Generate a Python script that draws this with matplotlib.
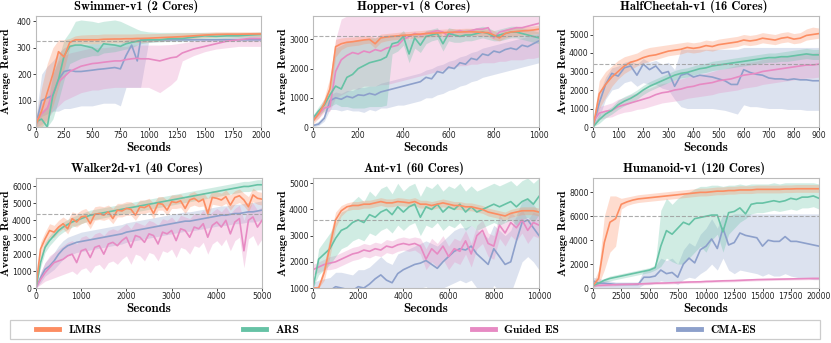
import matplotlib
matplotlib.use("Agg")
import matplotlib.pyplot as plt
from matplotlib.lines import Line2D
from matplotlib.patches import Rectangle

# colours (Set2)
C_LMRS, C_ARS, C_GES, C_CMA = "#fc8d62", "#66c2a5", "#e78ac3", "#8da0cb"
methods = ["LMRS", "ARS", "Guided ES", "CMA-ES"]

# ---------------- Swimmer-v1 ----------------
swim_x = [0, 50, 100, 150, 200, 250, 300, 350, 400, 500, 550, 600, 700, 750, 800, 850, 900, 930,
          1000, 1100, 1200, 1250, 1300, 1400, 1500, 1600, 1700, 1800, 1900, 2000]
swim_lmrs = [10, 60, 130, 200, 285, 265, 320, 330, 330, 330, 330, 332, 333, 333, 334, 334, 335, 335, 336, 338, 340, 341, 342, 345, 348, 350, 351, 351, 352, 352]
swim_lmrs_lo = [0, 0, 20, 80, 150, 220, 300, 315, 315, 315, 315, 318, 318, 318, 320, 320, 320, 320, 322, 325, 328, 330, 330, 335, 338, 340, 342, 342, 343, 343]
swim_lmrs_hi = [30, 150, 240, 300, 330, 330, 335, 345, 348, 350, 350, 352, 352, 352, 352, 352, 353, 353, 353, 354, 355, 356, 356, 357, 358, 360, 360, 360, 360, 360]
swim_ars = [20, 30, 0, 120, 180, 270, 305, 310, 310, 300, 285, 315, 310, 305, 315, 320, 325, 328, 330, 330, 335, 335, 335, 340, 345, 343, 345, 345, 348, 350]
swim_ars_lo = [0, 0, 0, 30, 100, 180, 240, 250, 260, 270, 270, 280, 285, 290, 295, 300, 310, 315, 320, 322, 325, 325, 325, 330, 335, 335, 336, 336, 338, 340]
swim_ars_hi = [40, 60, 80, 200, 260, 330, 360, 400, 405, 400, 395, 400, 405, 400, 390, 380, 370, 365, 360, 358, 358, 358, 358, 358, 358, 358, 358, 358, 358, 360]
swim_ges = [20, 50, 70, 130, 170, 190, 210, 220, 230, 240, 242, 245, 250, 250, 255, 258, 260, 258, 258, 250, 262, 265, 280, 295, 305, 315, 325, 330, 335, 335]
swim_ges_lo = [0, 10, 30, 60, 80, 100, 110, 120, 130, 140, 140, 145, 150, 150, 150, 150, 150, 150, 150, 130, 160, 180, 250, 270, 285, 295, 300, 305, 305, 305]
swim_ges_hi = [40, 90, 120, 200, 250, 270, 280, 285, 290, 300, 300, 300, 305, 305, 305, 310, 310, 310, 310, 310, 312, 315, 318, 325, 330, 335, 340, 342, 345, 345]
swim_cma = [10, 100, 110, 120, 180, 210, 215, 210, 210, 215, 218, 220, 225, 220, 270, 310, 250, 330, 330, 330, 330, 330, 330, 330, 330, 330, 330, 330, 330, 330]
swim_cma_lo = [0, 40, 50, 60, 60, 70, 70, 75, 80, 80, 85, 90, 90, 80, 150, 150, 150, 150, 320, 325, 325, 325, 325, 325, 325, 325, 325, 325, 325, 325]
swim_cma_hi = [40, 200, 230, 250, 280, 300, 310, 310, 310, 315, 315, 315, 315, 315, 330, 335, 335, 335, 335, 335, 335, 335, 335, 335, 335, 335, 335, 335, 335, 335]

# ---------------- Hopper-v1 ----------------
hop_x = [0, 25, 50, 75, 100, 125, 150, 175, 200, 225, 250, 275, 300, 325, 350, 375, 400, 425, 450, 475, 500,
         525, 550, 575, 600, 625, 650, 675, 700, 725, 750, 775, 800, 825, 850, 875, 900, 925, 950, 975, 1000]
hop_lmrs = [200, 450, 800, 1300, 2750, 2850, 2900, 2920, 2950, 2980, 3000, 2850, 3050, 3080, 3100, 3120, 3140, 3150, 3170, 3180, 3200, 3210, 3220, 3230, 3240, 3250, 3250, 3260, 3260, 3250, 3240, 3230, 3150, 3050, 3200, 3250, 3270, 3290, 3300, 3320, 3350]
hop_lmrs_lo = [100, 300, 600, 1000, 2400, 2650, 2750, 2780, 2800, 2850, 2870, 2700, 2900, 2950, 2980, 3000, 3020, 3030, 3050, 3060, 3080, 3090, 3100, 3110, 3120, 3130, 3130, 3140, 3140, 3130, 3120, 3100, 3000, 2950, 3050, 3100, 3120, 3150, 3160, 3180, 3200]
hop_lmrs_hi = [300, 600, 1000, 1700, 3000, 3050, 3070, 3080, 3100, 3120, 3130, 3050, 3180, 3200, 3220, 3240, 3260, 3270, 3290, 3300, 3320, 3330, 3340, 3350, 3360, 3370, 3370, 3380, 3380, 3370, 3360, 3350, 3300, 3200, 3350, 3400, 3420, 3430, 3440, 3460, 3480]
hop_ars = [300, 550, 750, 1100, 1400, 1300, 1700, 1800, 2000, 2100, 2200, 2250, 2300, 2400, 2850, 2900, 3100, 2500, 3050, 2800, 3100, 3150, 3200, 2850, 3200, 3150, 3100, 3150, 3150, 3200, 3250, 3200, 3100, 3150, 3200, 3250, 3250, 3200, 3150, 3100, 3050]
hop_ars_lo = [200, 400, 550, 700, 800, 700, 700, 650, 650, 650, 700, 700, 700, 750, 2500, 2600, 2800, 2200, 2700, 2550, 2850, 2950, 3000, 2600, 2950, 2900, 2900, 2950, 2950, 3000, 3050, 3000, 2950, 2950, 3000, 3050, 3050, 3000, 2950, 2900, 2850]
hop_ars_hi = [400, 700, 950, 1400, 2700, 2800, 2900, 2950, 3000, 3000, 3050, 3050, 3100, 3150, 3150, 3150, 3300, 3000, 3250, 3100, 3300, 3350, 3400, 3100, 3400, 3350, 3300, 3350, 3350, 3400, 3450, 3400, 3300, 3350, 3400, 3450, 3450, 3400, 3350, 3300, 3250]
hop_ges = [300, 450, 650, 700, 1900, 2300, 2450, 2550, 2500, 2600, 2550, 2650, 2600, 2700, 2750, 2800, 3000, 3100, 3200, 3150, 3200, 3250, 3300, 3250, 3100, 3250, 3300, 3250, 3300, 3350, 3350, 3400, 3050, 3250, 3300, 3350, 3400, 3400, 3450, 3500, 3550]
hop_ges_lo = [200, 300, 500, 550, 1000, 1100, 1200, 1300, 1300, 1400, 1400, 1400, 1450, 1450, 1500, 1550, 1600, 1650, 1700, 1750, 1800, 1850, 1900, 1950, 2000, 2050, 2100, 2100, 2150, 2150, 2200, 2200, 2200, 2250, 2250, 2300, 2300, 2300, 2350, 2350, 2400]
hop_ges_hi = [400, 600, 800, 1000, 3000, 3700, 3800, 3800, 3800, 3800, 3800, 3800, 3800, 3800, 3800, 3800, 3800, 3800, 3800, 3800, 3800, 3800, 3800, 3800, 3800, 3800, 3800, 3800, 3800, 3800, 3800, 3800, 3800, 3800, 3800, 3800, 3800, 3800, 3800, 3800, 3800]
hop_cma = [50, 100, 300, 900, 1000, 950, 1050, 1000, 1100, 1080, 1150, 1100, 1200, 1250, 1300, 1350, 1400, 1450, 1500, 1550, 1700, 1650, 1900, 1850, 2050, 2000, 2200, 2150, 2350, 2300, 2500, 2450, 2600, 2550, 2650, 2700, 2650, 2800, 2750, 2850, 2950]
hop_cma_lo = [0, 50, 200, 600, 600, 550, 600, 550, 550, 500, 600, 550, 650, 650, 700, 750, 750, 800, 850, 900, 1000, 1000, 1100, 1150, 1250, 1300, 1400, 1450, 1550, 1600, 1700, 1750, 1800, 1850, 1900, 1950, 2000, 2050, 2100, 2150, 2200]
hop_cma_hi = [100, 200, 400, 1100, 1200, 1150, 1250, 1250, 1350, 1350, 1400, 1400, 1500, 1550, 1600, 1650, 1700, 1750, 1800, 1850, 1950, 2000, 2100, 2150, 2250, 2300, 2400, 2450, 2550, 2600, 2700, 2750, 2800, 2850, 2900, 2950, 3000, 3050, 3100, 3150, 3200]

# ---------------- HalfCheetah-v1 ----------------
hc_x = [0, 25, 50, 75, 100, 125, 150, 175, 200, 225, 250, 275, 300, 325, 350, 375, 400, 425, 450,
        475, 500, 525, 550, 575, 600, 625, 650, 675, 700, 725, 750, 775, 800, 825, 850, 875, 900]
hc_lmrs = [0, 1800, 2300, 2700, 3000, 3300, 3500, 3600, 3750, 3850, 3900, 4000, 4100, 4150, 4200, 4300, 4250, 4300, 4400, 4350, 4450, 4500, 4550, 4600, 4700, 4650, 4700, 4800, 4750, 4700, 4800, 4850, 4750, 4800, 4950, 5000, 5050]
hc_lmrs_lo = [0, 1000, 1600, 2200, 2600, 2900, 3100, 3300, 3450, 3550, 3650, 3750, 3850, 3900, 3950, 4050, 4000, 4050, 4150, 4100, 4200, 4250, 4300, 4350, 4450, 4400, 4450, 4550, 4500, 4450, 4550, 4600, 4500, 4550, 4700, 4750, 4800]
hc_lmrs_hi = [200, 2500, 3000, 3300, 3600, 3800, 3900, 4000, 4200, 4300, 4350, 4400, 4450, 4500, 4550, 4600, 4550, 4600, 4700, 4650, 4750, 4800, 4850, 4900, 5000, 4950, 5000, 5100, 5050, 5000, 5100, 5150, 5050, 5100, 5300, 5400, 5350]
hc_ars = [0, 400, 700, 900, 1200, 1400, 1550, 1750, 2000, 2200, 2350, 2500, 2650, 2800, 2900, 2950, 3050, 3150, 3200, 3300, 3350, 3400, 3450, 3500, 3550, 3600, 3650, 3700, 3750, 3750, 3800, 3800, 3850, 3900, 3950, 3900, 3900]
hc_ars_lo = [0, 200, 500, 700, 950, 1150, 1300, 1500, 1750, 1950, 2100, 2250, 2400, 2550, 2650, 2700, 2800, 2900, 2950, 3050, 3100, 3150, 3200, 3250, 3300, 3350, 3400, 3450, 3500, 3500, 3550, 3550, 3600, 3650, 3700, 3650, 3650]
hc_ars_hi = [100, 700, 900, 1100, 1450, 1650, 1800, 2000, 2250, 2450, 2600, 2750, 2900, 3050, 3150, 3200, 3300, 3400, 3450, 3550, 3600, 3650, 3700, 3750, 3800, 3850, 3900, 3950, 4000, 4000, 4050, 4100, 4150, 4200, 4250, 4200, 4200]
hc_ges = [300, 750, 850, 900, 1100, 1200, 1300, 1400, 1500, 1600, 1750, 1850, 1900, 2000, 2050, 2150, 2200, 2300, 2350, 2400, 2500, 2550, 2600, 2700, 2800, 2850, 2900, 3000, 3050, 3100, 3150, 3200, 3250, 3300, 3350, 3350, 3400]
hc_ges_lo = [100, 400, 500, 550, 700, 800, 850, 950, 1000, 1100, 1200, 1300, 1350, 1400, 1450, 1550, 1600, 1650, 1700, 1750, 1850, 1900, 1950, 2000, 2100, 2150, 2200, 2300, 2350, 2400, 2450, 2500, 2550, 2600, 2650, 2650, 2700]
hc_ges_hi = [500, 1100, 1200, 1300, 1500, 1600, 1750, 1850, 2000, 2100, 2250, 2350, 2400, 2550, 2600, 2700, 2750, 2850, 2900, 3000, 3100, 3150, 3250, 3350, 3450, 3500, 3550, 3650, 3700, 3750, 3800, 3850, 3900, 3950, 4000, 4000, 4050]
hc_cma = [0, 1300, 2300, 2900, 2750, 3200, 3300, 2800, 3400, 3100, 3300, 2900, 3000, 2200, 2800, 2900, 2700, 2800, 2750, 2700, 2600, 2500, 2300, 2300, 3100, 2950, 2850, 2800, 2650, 2600, 2600, 2550, 2600, 2550, 2550, 2500, 2500]
hc_cma_lo = [0, 500, 1500, 2000, 2100, 2400, 2500, 2200, 2400, 2300, 2300, 2100, 2000, 1500, 1100, 1000, 1000, 1000, 1000, 1000, 950, 900, 800, 700, 1200, 1100, 1100, 1050, 1000, 1000, 1000, 950, 950, 950, 900, 900, 900]
hc_cma_hi = [100, 1800, 2700, 3200, 3300, 3500, 3600, 3400, 3700, 3500, 3600, 3400, 3500, 3100, 4200, 4200, 4200, 4200, 4200, 4200, 4200, 4200, 4200, 4200, 4300, 4300, 4300, 4300, 4300, 4300, 4300, 4300, 4300, 4300, 4300, 4300, 4300]

# ---------------- Walker2d-v1 ----------------
wk_x = [0, 100, 200, 300, 400, 500, 600, 700, 800, 900, 1000, 1100, 1200, 1300, 1400, 1500, 1600, 1700,
        1800, 1900, 2000, 2100, 2200, 2300, 2400, 2500, 2600, 2700, 2800, 2900, 3000, 3100, 3200, 3300,
        3400, 3500, 3600, 3700, 3800, 3900, 4000, 4100, 4200, 4300, 4400, 4500, 4600, 4700, 4800, 4900, 5000]
wk_lmrs = [100, 2300, 2900, 3400, 3300, 3600, 3800, 3500, 4100, 3900, 4200, 4250, 3800, 4350, 4400, 4300, 4500, 4100, 4600, 4550, 4700, 4650, 4300, 4800, 4750, 4900, 4400, 5000, 4950, 4600, 5100, 5050, 5150, 4700, 5200, 5300, 5100, 5250, 4400, 5350, 5300, 5200, 5400, 4900, 5350, 5450, 5200, 4800, 5500, 5300, 5250]
wk_lmrs_lo = [0, 1800, 2400, 3000, 3000, 3300, 3500, 3200, 3700, 3600, 3800, 3900, 3500, 4000, 4050, 4000, 4100, 3800, 4200, 4200, 4300, 4300, 4000, 4400, 4400, 4500, 4100, 4600, 4600, 4300, 4700, 4700, 4750, 4400, 4800, 4900, 4800, 4850, 4100, 4950, 4900, 4850, 5000, 4600, 4950, 5050, 4850, 4500, 5100, 4950, 4900]
wk_lmrs_hi = [200, 2700, 3300, 3800, 3700, 4000, 4200, 4000, 4500, 4400, 4600, 4700, 4400, 4800, 4850, 4800, 4900, 4700, 5000, 5000, 5100, 5100, 4900, 5200, 5200, 5300, 5000, 5400, 5400, 5200, 5500, 5500, 5550, 5300, 5600, 5700, 5500, 5650, 5300, 5750, 5700, 5600, 5800, 5500, 5750, 5850, 5600, 5400, 5900, 5700, 5650]
wk_ars = [0, 1500, 2400, 2800, 3100, 3400, 3600, 3750, 3900, 4000, 4100, 4200, 4300, 4350, 4400, 4450, 4500, 4550, 4600, 4650, 4700, 4750, 4800, 4850, 4900, 4950, 5000, 5050, 5100, 5150, 5200, 5250, 5300, 5350, 5400, 5450, 5500, 5550, 5600, 5650, 5700, 5750, 5800, 5850, 5900, 5950, 6000, 6000, 6050, 6100, 6100]
wk_ars_lo = [0, 1200, 2100, 2500, 2800, 3100, 3300, 3450, 3600, 3700, 3800, 3900, 4000, 4050, 4100, 4150, 4200, 4250, 4300, 4350, 4400, 4450, 4500, 4550, 4600, 4650, 4700, 4750, 4800, 4850, 4900, 4950, 5000, 5050, 5100, 5150, 5200, 5250, 5300, 5350, 5400, 5450, 5500, 5550, 5600, 5650, 5700, 5700, 5750, 5800, 5800]
wk_ars_hi = [100, 1800, 2700, 3100, 3400, 3700, 3900, 4050, 4200, 4300, 4400, 4500, 4600, 4650, 4700, 4750, 4800, 4850, 4900, 4950, 5000, 5050, 5100, 5150, 5200, 5250, 5300, 5350, 5400, 5450, 5500, 5550, 5600, 5650, 5700, 5750, 5800, 5850, 5900, 5950, 6000, 6050, 6100, 6150, 6200, 6250, 6300, 6300, 6350, 6400, 6400]
wk_ges = [0, 500, 900, 1200, 1500, 1600, 1700, 1900, 2000, 1500, 2200, 2300, 1800, 2400, 2500, 2000, 2600, 2700, 2500, 2800, 3000, 2400, 3100, 3000, 2700, 3200, 3100, 2600, 3300, 3200, 3400, 2800, 3500, 3400, 3000, 3600, 3500, 3800, 3000, 3700, 3900, 3600, 4000, 3200, 3900, 4100, 2200, 4000, 4200, 3600, 4000]
wk_ges_lo = [0, 200, 400, 500, 600, 700, 800, 900, 1000, 800, 1100, 1200, 900, 1300, 1400, 1100, 1500, 1600, 1400, 1700, 1900, 1400, 2000, 1900, 1600, 2100, 2000, 1600, 2200, 2100, 2300, 1800, 2400, 2300, 2000, 2500, 2400, 2700, 2000, 2600, 2800, 2500, 2900, 2200, 2800, 3000, 1200, 2900, 3100, 2500, 2900]
wk_ges_hi = [100, 900, 1500, 1900, 2100, 2300, 2500, 2700, 2800, 2600, 3000, 3100, 2900, 3200, 3300, 3100, 3400, 3500, 3400, 3600, 3800, 3500, 3900, 3800, 3700, 4000, 3900, 3700, 4100, 4000, 4200, 3900, 4300, 4200, 4100, 4400, 4300, 4600, 4200, 4500, 4700, 4500, 4800, 4400, 4700, 4900, 4000, 4800, 5000, 4600, 4800]
wk_cma = [0, 600, 1100, 1300, 1600, 2000, 2300, 2500, 2600, 2700, 2750, 2800, 2850, 2900, 2950, 3000, 3050, 3100, 3150, 3200, 3300, 3350, 3400, 3450, 3500, 3550, 3600, 3650, 3700, 3750, 3800, 3850, 3900, 3950, 3950, 4000, 4050, 4100, 4150, 4200, 4250, 4300, 4300, 4350, 4400, 4400, 4450, 4500, 4500, 4550, 4600]
wk_cma_lo = [0, 300, 700, 900, 1100, 1400, 1700, 1900, 2000, 2100, 2150, 2200, 2250, 2300, 2350, 2400, 2450, 2500, 2550, 2600, 2700, 2750, 2800, 2850, 2900, 2950, 3000, 3050, 3100, 3150, 3200, 3250, 3300, 3350, 3350, 3400, 3450, 3500, 3550, 3600, 3650, 3700, 3700, 3750, 3800, 3800, 3850, 3900, 3900, 3950, 4000]
wk_cma_hi = [100, 900, 1500, 1800, 2100, 2500, 2800, 3000, 3100, 3200, 3300, 3350, 3400, 3450, 3500, 3550, 3600, 3650, 3700, 3750, 3850, 3900, 3950, 4000, 4050, 4100, 4150, 4200, 4250, 4300, 4350, 4400, 4450, 4500, 4500, 4550, 4600, 4650, 4700, 4750, 4800, 4850, 4850, 4900, 4950, 4950, 5000, 5050, 5050, 5100, 5150]

# ---------------- Ant-v1 ----------------
ant_x = [0, 250, 500, 750, 1000, 1250, 1500, 1750, 2000, 2250, 2500, 2750, 3000, 3250, 3500, 3750, 4000,
         4250, 4500, 4750, 5000, 5250, 5500, 5750, 6000, 6250, 6500, 6750, 7000, 7250, 7500, 7750, 8000,
         8250, 8500, 8750, 9000, 9250, 9500, 9750, 10000]
ant_lmrs = [1000, 1000, 1600, 2600, 3600, 3950, 4100, 4150, 4150, 4200, 4200, 4250, 4300, 4250, 4250, 4300, 4280, 4250, 4300, 4200, 4200, 4150, 4200, 4250, 4200, 4150, 4150, 4100, 4100, 4050, 4000, 3900, 3850, 3800, 3750, 3850, 3900, 3950, 3950, 3950, 3900]
ant_lmrs_lo = [1000, 1000, 1300, 2200, 3300, 3750, 3950, 4000, 4000, 4050, 4050, 4100, 4150, 4100, 4100, 4150, 4130, 4100, 4150, 4050, 4050, 4000, 4050, 4100, 4050, 4000, 4000, 3950, 3950, 3900, 3850, 3750, 3700, 3650, 3600, 3700, 3750, 3800, 3800, 3800, 3750]
ant_lmrs_hi = [1000, 1100, 1900, 3000, 3900, 4150, 4250, 4300, 4300, 4350, 4350, 4400, 4450, 4400, 4400, 4450, 4430, 4400, 4450, 4350, 4350, 4300, 4350, 4400, 4350, 4300, 4300, 4250, 4250, 4200, 4150, 4050, 4000, 3950, 3900, 4000, 4050, 4100, 4100, 4100, 4050]
ant_ars = [1000, 2100, 2300, 2500, 2900, 3200, 3300, 3500, 3600, 3500, 3800, 3700, 3900, 4000, 3800, 4100, 3900, 4100, 4200, 3700, 4100, 4000, 4200, 3900, 4100, 4000, 4200, 3900, 4100, 3900, 4000, 4100, 4200, 4100, 4200, 4300, 4100, 4300, 4400, 4200, 4500]
ant_ars_lo = [1000, 1500, 1700, 1900, 2200, 2500, 2600, 2800, 2900, 2800, 3100, 3000, 3200, 3300, 3100, 3400, 3200, 3400, 3500, 3000, 3400, 3300, 3500, 3200, 3400, 3300, 3500, 3200, 3400, 3200, 3300, 3400, 3500, 3400, 3500, 3600, 3400, 3600, 3700, 3500, 3800]
ant_ars_hi = [1000, 2500, 2800, 3100, 3500, 3900, 4000, 4300, 4500, 4300, 4700, 4500, 4800, 4900, 4600, 5000, 4700, 4900, 5000, 4500, 4900, 4800, 5000, 4700, 4900, 4800, 5000, 4700, 4900, 4700, 4800, 4900, 5000, 4900, 5000, 5100, 4900, 5100, 5200, 5000, 5200]
ant_ges = [1700, 1800, 1900, 1950, 2000, 2100, 2200, 2300, 2350, 2450, 2400, 2500, 2450, 2600, 2550, 2650, 2700, 2650, 2700, 2600, 2100, 2500, 2300, 2600, 2200, 2500, 2400, 2800, 2300, 3000, 3200, 2700, 2600, 3400, 3100, 3500, 3300, 3600, 3200, 3500, 3400]
ant_ges_lo = [1500, 1600, 1700, 1700, 1750, 1850, 1950, 2050, 2100, 2200, 2150, 2250, 2200, 2350, 2300, 2400, 2450, 2400, 2450, 2300, 1700, 2000, 1800, 2100, 1700, 2000, 1900, 2300, 1800, 2500, 2700, 2200, 2100, 2900, 2600, 3000, 2800, 3100, 2700, 3000, 2900]
ant_ges_hi = [1900, 2000, 2100, 2200, 2250, 2350, 2450, 2550, 2600, 2700, 2650, 2750, 2700, 2850, 2800, 2900, 2950, 2900, 2950, 2900, 2500, 2900, 2700, 3000, 2600, 2900, 2800, 3200, 2700, 3400, 3600, 3100, 3000, 3800, 3500, 3900, 3700, 4000, 3600, 3900, 3800]
ant_cma = [700, 800, 850, 900, 1050, 1000, 950, 900, 1050, 1000, 1150, 1350, 1500, 1300, 1200, 1550, 1700, 1800, 1900, 1950, 2050, 1900, 1750, 2000, 2200, 2400, 2500, 2450, 2600, 2300, 2100, 1900, 2500, 2200, 1900, 2000, 2800, 3500, 3600, 3300, 3000]
ant_cma_lo = [200, 300, 300, 350, 400, 400, 350, 350, 400, 400, 500, 600, 700, 600, 500, 700, 800, 900, 950, 1000, 1050, 900, 800, 1000, 1100, 1200, 1300, 1200, 1300, 1000, 900, 700, 1100, 900, 700, 800, 1400, 2000, 2200, 2000, 1700]
ant_cma_hi = [1200, 1300, 1350, 1400, 1600, 1600, 1550, 1500, 1700, 1700, 1800, 2000, 2200, 2000, 1900, 2300, 2400, 2500, 2600, 2700, 2800, 2700, 2600, 2800, 3000, 3200, 3300, 3300, 3400, 3200, 3100, 2900, 3400, 3200, 3000, 3200, 3800, 4300, 4400, 4200, 3900]

# ---------------- Humanoid-v1 ----------------
hum_x = [0, 500, 1000, 1500, 2000, 2500, 3000, 3500, 4000, 4500, 5000, 5500, 6000, 6500, 7000, 7500, 8000,
         8500, 9000, 9500, 10000, 10500, 11000, 11500, 12000, 12500, 13000, 13500, 14000, 14500, 15000,
         15500, 16000, 16500, 17000, 17500, 18000, 18500, 19000, 19500, 20000]
hum_lmrs = [200, 800, 3800, 5500, 5800, 7000, 7200, 7350, 7450, 7500, 7550, 7600, 7650, 7700, 7750, 7800, 7850, 7900, 7950, 8000, 8000, 8050, 8100, 8100, 8150, 8150, 8200, 8200, 8200, 8250, 8250, 8250, 8250, 8250, 8280, 8280, 8300, 8300, 8300, 8300, 8300]
hum_lmrs_lo = [0, 300, 1500, 3000, 3500, 6600, 6900, 7050, 7150, 7200, 7250, 7300, 7350, 7400, 7450, 7500, 7550, 7600, 7650, 7700, 7700, 7750, 7800, 7800, 7850, 7850, 7900, 7900, 7900, 7950, 7950, 7950, 7950, 7950, 7980, 7980, 8000, 8000, 8000, 8000, 8000]
hum_lmrs_hi = [400, 1500, 6000, 7700, 7700, 7500, 7600, 7700, 7800, 7850, 7900, 7950, 8000, 8050, 8100, 8150, 8200, 8250, 8300, 8350, 8350, 8400, 8450, 8450, 8500, 8500, 8550, 8550, 8550, 8600, 8600, 8600, 8600, 8600, 8620, 8620, 8650, 8650, 8650, 8650, 8650]
hum_ars = [200, 400, 650, 800, 900, 1000, 1100, 1200, 1300, 1400, 1500, 1700, 3500, 4800, 4500, 5000, 5500, 5300, 5800, 5900, 6000, 6100, 6100, 4700, 6300, 6400, 6700, 6200, 7000, 7100, 7100, 7200, 7300, 7200, 7300, 7500, 7400, 7600, 7600, 7700, 7500]
hum_ars_lo = [100, 300, 500, 600, 700, 800, 900, 1000, 1100, 1200, 1300, 1500, 1800, 2500, 2200, 2000, 2000, 2500, 3000, 3500, 3000, 4000, 4500, 3000, 4500, 5000, 5500, 5800, 6200, 6300, 6300, 6400, 6500, 6400, 6500, 6600, 6500, 6700, 6700, 6800, 6600]
hum_ars_hi = [300, 500, 800, 1000, 1100, 1200, 1300, 1400, 1500, 1600, 1700, 1900, 6500, 7500, 7000, 7500, 7800, 8000, 8300, 8500, 8500, 8600, 8600, 8500, 8600, 8600, 8700, 8600, 8700, 8700, 8700, 8700, 8800, 8700, 8800, 8800, 8800, 8800, 8800, 8800, 8700]
hum_ges = [200, 220, 240, 260, 280, 300, 310, 320, 340, 360, 380, 400, 410, 420, 440, 460, 480, 500, 510, 520, 550, 560, 580, 600, 610, 620, 640, 660, 680, 700, 710, 720, 730, 740, 750, 760, 770, 780, 790, 800, 800]
hum_ges_lo = [100, 120, 140, 160, 180, 200, 210, 220, 240, 260, 280, 300, 310, 320, 340, 360, 380, 400, 410, 420, 450, 460, 480, 500, 510, 520, 540, 560, 580, 600, 610, 620, 630, 640, 650, 660, 670, 680, 690, 700, 700]
hum_ges_hi = [300, 320, 340, 360, 380, 400, 410, 420, 440, 460, 480, 500, 510, 520, 540, 560, 580, 600, 610, 620, 650, 660, 680, 700, 710, 720, 740, 760, 780, 800, 810, 820, 830, 840, 850, 860, 870, 880, 890, 900, 900]
hum_cma = [600, 400, 400, 350, 300, 300, 300, 300, 300, 900, 900, 1000, 1500, 1200, 1300, 900, 2000, 2500, 2100, 3200, 3500, 4100, 3300, 5000, 3600, 3800, 4600, 4400, 4300, 4200, 3500, 4000, 3900, 3900, 4300, 3900, 3900, 3800, 3700, 3600, 3500]
hum_cma_lo = [0, 0, 0, 0, 0, 0, 0, 0, 0, 300, 300, 400, 600, 500, 500, 300, 700, 900, 800, 1200, 1500, 2000, 1500, 2500, 1500, 1200, 1500, 1400, 1300, 1200, 1000, 1200, 1000, 1000, 1200, 1000, 900, 800, 800, 700, 700]
hum_cma_hi = [900, 800, 700, 600, 500, 500, 500, 500, 500, 1500, 1600, 1800, 2500, 2300, 2500, 2000, 3200, 3800, 3500, 4500, 5000, 5800, 5000, 6200, 6000, 6200, 6200, 6200, 6200, 6200, 6200, 6200, 6200, 6200, 6200, 6200, 6200, 6200, 6200, 6200, 6200]

titles = ["Swimmer-v1 (2 Cores)", "Hopper-v1 (8 Cores)", "HalfCheetah-v1 (16 Cores)",
          "Walker2d-v1 (40 Cores)", "Ant-v1 (60 Cores)", "Humanoid-v1 (120 Cores)"]
thresholds = [325, 3100, 3430, 4390, 3580, 6000]

panels = [
    (swim_x, [(swim_lmrs, swim_lmrs_lo, swim_lmrs_hi), (swim_ars, swim_ars_lo, swim_ars_hi),
              (swim_ges, swim_ges_lo, swim_ges_hi), (swim_cma, swim_cma_lo, swim_cma_hi)]),
    (hop_x, [(hop_lmrs, hop_lmrs_lo, hop_lmrs_hi), (hop_ars, hop_ars_lo, hop_ars_hi),
             (hop_ges, hop_ges_lo, hop_ges_hi), (hop_cma, hop_cma_lo, hop_cma_hi)]),
    (hc_x, [(hc_lmrs, hc_lmrs_lo, hc_lmrs_hi), (hc_ars, hc_ars_lo, hc_ars_hi),
            (hc_ges, hc_ges_lo, hc_ges_hi), (hc_cma, hc_cma_lo, hc_cma_hi)]),
    (wk_x, [(wk_lmrs, wk_lmrs_lo, wk_lmrs_hi), (wk_ars, wk_ars_lo, wk_ars_hi),
            (wk_ges, wk_ges_lo, wk_ges_hi), (wk_cma, wk_cma_lo, wk_cma_hi)]),
    (ant_x, [(ant_lmrs, ant_lmrs_lo, ant_lmrs_hi), (ant_ars, ant_ars_lo, ant_ars_hi),
             (ant_ges, ant_ges_lo, ant_ges_hi), (ant_cma, ant_cma_lo, ant_cma_hi)]),
    (hum_x, [(hum_lmrs, hum_lmrs_lo, hum_lmrs_hi), (hum_ars, hum_ars_lo, hum_ars_hi),
             (hum_ges, hum_ges_lo, hum_ges_hi), (hum_cma, hum_cma_lo, hum_cma_hi)]),
]

xlims = [(0, 2000), (0, 1000), (0, 900), (0, 5000), (0, 10000), (0, 20000)]
ylims = [(0, 420), (0, 3800), (0, 6000), (0, 6500), (1000, 5200), (0, 9200)]
xticks = [range(0, 2001, 250), range(0, 1001, 200), range(0, 901, 100),
          range(0, 5001, 1000), range(0, 10001, 2000), range(0, 20001, 2500)]
yticks = [range(0, 401, 100), range(0, 3001, 1000), range(0, 5001, 1000),
          range(0, 6001, 1000), range(1000, 5001, 1000), range(0, 8001, 2000)]

colors = [C_LMRS, C_ARS, C_GES, C_CMA]
# draw order: blue/pink behind, orange/green on top
order = [3, 2, 1, 0]

W, H = 831, 343
fig = plt.figure(figsize=(W / 100, H / 100), dpi=100)

# axes boxes in pixels: left, top, right, bottom
boxes = [(36, 16, 261, 127), (313, 16, 539, 127), (593, 16, 819, 127),
         (36, 178, 262, 288), (313, 178, 539, 288), (593, 178, 819, 288)]

TFONT = "cmb10"
for i, (l, t, r, b) in enumerate(boxes):
    aw = r - l
    ax = fig.add_axes([l / W, 1 - b / H, aw / W, (b - t) / H])
    x, series = panels[i]
    for k in order:
        m, lo, hi = series[k]
        ax.fill_between(x, lo, hi, color=colors[k], alpha=0.3, lw=0)
    for k in order:
        m, lo, hi = series[k]
        ax.plot(x, m, color=colors[k], lw=1.2)
    ax.axhline(thresholds[i], color="#999999", ls="--", lw=0.8, alpha=0.8)
    ax.set_xlim(*xlims[i])
    ax.set_ylim(*ylims[i])
    ax.set_xticks(list(xticks[i]))
    ax.set_yticks(list(yticks[i]))
    ax.tick_params(labelsize=5.6, length=2, width=0.6, pad=1.2, colors="#222222")
    for s in ax.spines.values():
        s.set_color("#bbbbbb")
        s.set_linewidth(0.8)
    ax.set_title(titles[i], family=TFONT, fontsize=9.0, pad=4, x=0.5 - 12 / aw)
    ax.set_xlabel("Seconds", family=TFONT, fontsize=9.3, labelpad=1)
    ax.set_ylabel("Average Reward", family=TFONT, fontsize=8.3)
    ax.yaxis.set_label_coords(-24.5 / aw, 0.5)

# legend: frame box plus four entries
fig.patches.append(Rectangle((10 / W, 4 / H), 810 / W, 19 / H, transform=fig.transFigure,
                             facecolor="white", edgecolor="#cccccc", lw=0.9))
leg_x = [36, 243, 472, 678]
for c, name, lx in zip(colors, methods, leg_x):
    lg = fig.legend([Line2D([0], [0], color=c, lw=3.5)], [name], loc="center left",
                    bbox_to_anchor=(lx / W, 13.5 / H), frameon=False,
                    prop={"family": TFONT, "size": 8.3}, handlelength=2.0,
                    handletextpad=0.8, borderpad=0, borderaxespad=0)

fig.savefig("out.png", dpi=100)
